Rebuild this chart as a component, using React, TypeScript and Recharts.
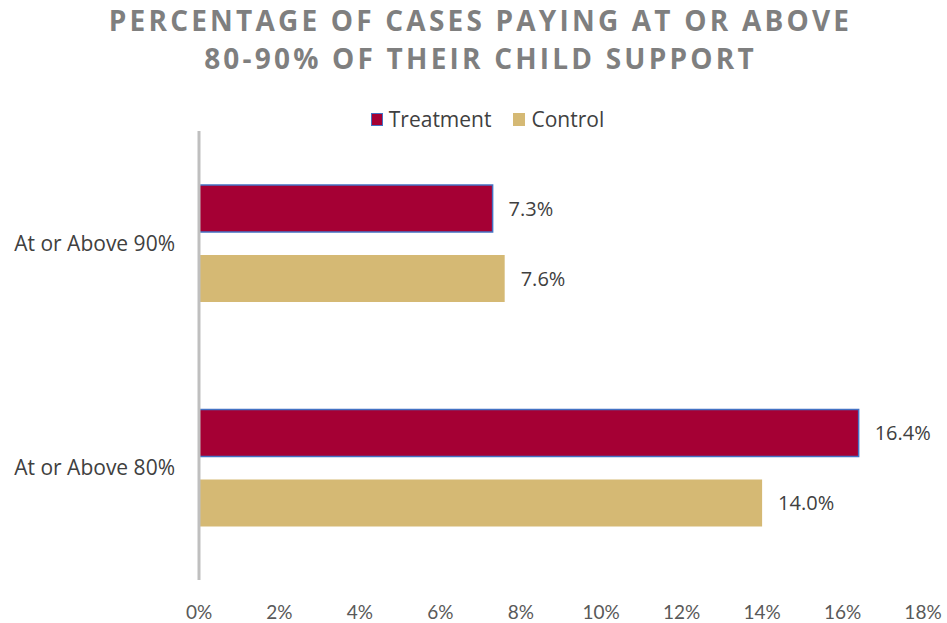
import React from "react";
import { BarChart, Bar, XAxis, YAxis, LabelList } from "recharts";

const categories = ["At or Above 90%", "At or Above 80%"];
const seriesNames = ["Treatment", "Control"];
const treatment = [7.3, 16.4];
const control = [7.6, 14.0];
const xTicks = [0, 2, 4, 6, 8, 10, 12, 14, 16, 18];
const titleLines = ["PERCENTAGE OF CASES PAYING AT OR ABOVE", "80-90% OF THEIR CHILD SUPPORT"];

const data = categories.map((name, i) => ({
  name,
  Treatment: treatment[i],
  Control: control[i],
}));

const OPEN = "'Open Sans', sans-serif";
const LATO = "Lato, sans-serif";
const TEXT = "#404040";
const RED = "#a50034";
const GOLD = "#d5b974";
const BLUE = "#4472c4";

function LegendBox() {
  const styles = [
    { fill: RED, stroke: BLUE },
    { fill: GOLD, stroke: GOLD },
  ];
  return (
    <div
      style={{
        position: "absolute",
        top: 105,
        left: 0,
        width: 947,
        display: "flex",
        justifyContent: "center",
        gap: 22,
        fontFamily: OPEN,
        fontSize: 21,
        color: TEXT,
        paddingLeft: 28,
        boxSizing: "border-box",
      }}
    >
      {seriesNames.map((name, i) => (
        <div key={name} style={{ display: "flex", alignItems: "center", gap: 6 }}>
          <span
            style={{
              display: "inline-block",
              width: 10,
              height: 11,
              background: styles[i].fill,
              border: `1.5px solid ${styles[i].stroke}`,
            }}
          />
          <span>{name}</span>
        </div>
      ))}
    </div>
  );
}

export default function App() {
  return (
    <div style={{ position: "absolute", left: 0, top: 0, width: 947, height: 623, background: "#fff" }}>
      <div
        style={{
          position: "absolute",
          top: 1,
          left: 0,
          width: 947,
          textAlign: "center",
          fontFamily: OPEN,
          fontWeight: 700,
          fontSize: 28,
          letterSpacing: 3.2,
          lineHeight: "38px",
          color: "#7f7f7f",
          paddingLeft: 14,
          boxSizing: "border-box",
        }}
      >
        {titleLines.map((t) => (
          <div key={t}>{t}</div>
        ))}
      </div>
      <LegendBox />
      <BarChart
        width={947}
        height={623}
        data={data}
        layout="vertical"
        margin={{ top: 131, right: 24, left: 0, bottom: 3 }}
        barGap={23}
        barSize={47}
        style={{ position: "absolute", left: 0, top: 0 }}
      >
        <XAxis
          type="number"
          domain={[0, 18]}
          ticks={xTicks}
          tickFormatter={(v: number) => `${v}%`}
          axisLine={false}
          tickLine={false}
          height={40}
          tickMargin={20}
          tick={{ fontFamily: LATO, fontSize: 19, fill: "#595959" }}
          interval={0}
        />
        <YAxis
          type="category"
          dataKey="name"
          width={199}
          axisLine={{ stroke: "#bfbfbf", strokeWidth: 3 }}
          tickLine={false}
          tickMargin={18}
          tick={{ fontFamily: OPEN, fontSize: 21, fill: TEXT }}
        />
        <Bar dataKey="Treatment" fill={RED} stroke={BLUE} strokeWidth={1.5} isAnimationActive={false}>
          <LabelList
            dataKey="Treatment"
            position="right"
            offset={16}
            formatter={(v: number) => `${v.toFixed(1)}%`}
            style={{ fontFamily: OPEN, fontSize: 20, fill: TEXT }}
          />
        </Bar>
        <Bar dataKey="Control" fill={GOLD} isAnimationActive={false}>
          <LabelList
            dataKey="Control"
            position="right"
            offset={16}
            formatter={(v: number) => `${v.toFixed(1)}%`}
            style={{ fontFamily: OPEN, fontSize: 20, fill: TEXT }}
          />
        </Bar>
      </BarChart>
    </div>
  );
}
